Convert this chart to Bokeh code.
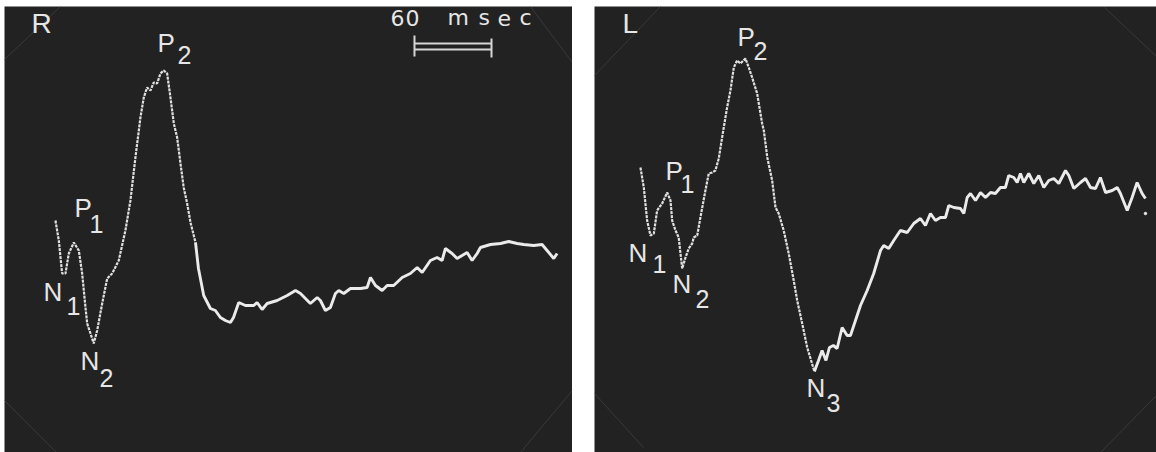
from bokeh.plotting import figure
from bokeh.layouts import row, column
from bokeh.models import Spacer
from bokeh.core.properties import value
from bokeh.embed import file_html
from bokeh.resources import INLINE

# ---------------- data (time in ms from sweep start, amplitude in arbitrary units) ----------
R_time_ms = [0, 2.6, 5.2, 7.8, 10.4, 14.3, 18.2, 20.8, 23.4, 24.7, 27.3, 29.8, 32.5, 36.4,
             40.3, 44.2, 49.3, 54.5, 58.4, 62.3, 66.2, 68.8, 71.4, 74.0, 76.6, 79.2, 81.8,
             84.4, 87.0, 89.6, 92.2, 94.8, 97.4, 99.9, 102.6, 105.2, 109.1, 111.4, 115.5,
             120.7, 124.6, 128.5, 132.4, 136.3, 138.7, 142.8, 148.0, 154.5, 157.1, 161.0,
             164.9, 172.7, 180.5, 187.0, 190.9, 198.6, 203.9, 206.4, 210.3, 214.2, 218.1,
             220.7, 224.6, 229.8, 237.6, 242.8, 245.4, 249.3, 254.5, 258.4, 263.5, 270.1,
             276.5, 281.8, 285.7, 292.1, 297.3, 301.2, 303.8, 309.0, 312.9, 316.8, 320.7,
             324.6, 328.5, 331.1, 338.9, 346.7, 353.1, 359.7, 364.8, 372.6, 379.1, 383.0,
             388.2, 390.8]
R_amp = [8.0, 6.0, 2.7, 2.7, 4.7, 5.8, 5.0, 2.7, -0.7, -2.3, -3.3, -4.3, -3.0, -0.3,
         2.2, 2.7, 4.0, 7.0, 10.0, 14.3, 18.3, 20.3, 21.3, 21.0, 21.8, 21.7, 22.7,
         23.0, 22.7, 20.3, 17.7, 16.3, 13.7, 11.3, 9.7, 7.8, 5.8, 3.2, 0.5,
         -0.8, -1.0, -1.7, -2.0, -2.2, -1.7, -0.2, -0.5, -0.5, -0.2, -0.9,
         -0.3, 0.0, 0.5, 1.0, 0.7, -0.3, 0.3, 0.0, -1.0, -0.7, 0.7,
         1.0, 0.7, 1.2, 1.2, 1.3, 2.3, 1.5, 1.0, 1.5, 1.5, 2.3,
         2.7, 3.3, 2.8, 4.0, 4.3, 4.0, 5.2, 4.7, 4.2, 4.5, 4.8,
         4.0, 4.7, 5.3, 5.6, 5.7, 5.9, 5.7, 5.6, 5.5, 5.6, 5.0,
         4.2, 4.7]

L_time_ms = [0, 2.6, 5.2, 7.8, 10.4, 13.0, 16.9, 20.8, 23.4, 24.7, 27.3, 29.8, 31.2, 32.5,
             35.1, 37.6, 40.3, 41.5, 44.2, 46.7, 50.6, 53.2, 55.9, 58.4, 61.0, 63.6, 67.5,
             70.1, 72.7, 75.3, 77.9, 81.8, 84.4, 87.0, 90.9, 94.8, 96.1, 98.8, 102.6, 105.2,
             107.7, 111.6, 115.5, 119.4, 122.1, 126.0, 129.9, 135.5, 138.7, 141.5, 144.5,
             147.2, 150.3, 153.2, 157.1, 161.0, 163.6, 167.5, 171.4, 176.6, 181.7, 187.0,
             189.5, 193.4, 197.3, 202.5, 207.8, 212.9, 218.1, 222.0, 225.9, 229.8, 233.7,
             237.6, 240.2, 244.1, 249.3, 251.9, 254.5, 257.1, 261.0, 264.9, 268.8, 272.7,
             276.5, 280.4, 284.3, 286.9, 290.8, 293.5, 296.0, 298.6, 302.5, 306.4, 310.3,
             314.2, 318.1, 322.0, 325.9, 331.1, 333.7, 337.6, 342.8, 346.7, 350.6, 354.5,
             358.3, 362.3, 367.5, 371.4, 373.9, 379.2, 383.0, 386.9, 390.8, 393.4]
L_amp = [13.3, 11.3, 8.0, 6.5, 6.7, 9.0, 9.7, 10.8, 10.0, 8.0, 7.0, 6.3, 4.7, 3.2,
         4.3, 5.2, 5.7, 6.3, 6.5, 8.3, 11.0, 12.7, 12.8, 13.0, 14.2, 16.3, 19.3,
         21.0, 23.3, 24.0, 23.7, 24.2, 23.3, 22.3, 20.7, 17.7, 17.0, 14.3, 12.0, 9.3,
         8.7, 7.0, 4.7, 2.0, 0.0, -2.3, -4.7, -7.1, -6.0, -5.0, -6.0,
         -4.7, -4.5, -4.8, -2.7, -3.5, -3.5, -2.0, -0.5, 1.0, 2.7, 5.0,
         5.5, 5.2, 6.0, 7.0, 6.8, 7.7, 8.2, 7.5, 8.7, 8.0, 8.3,
         8.3, 9.5, 9.3, 9.2, 8.7, 10.3, 10.7, 10.0, 10.8, 10.3, 10.8,
         10.7, 11.3, 11.3, 12.5, 12.3, 11.8, 12.7, 11.8, 12.7, 11.7, 12.5,
         11.3, 12.0, 12.2, 11.7, 13.0, 12.5, 11.2, 11.8, 12.2, 11.3, 11.2,
         12.3, 10.8, 11.0, 11.3, 10.7, 9.0, 10.3, 11.8, 10.7, 10.2]

scale_bar_ms = 60
scale_bar_label = ["6", "0", "m", "s", "e", "c"]

# component labels: (main letter, subscript)
R_labels = [("P", "1"), ("P", "2"), ("N", "1"), ("N", "2")]
L_labels = [("P", "1"), ("P", "2"), ("N", "1"), ("N", "2"), ("N", "3")]

# ---------------- styling / layout ----------------
BG = "#222222"
TRACE = "#ebebeb"
TXT = "#e6e6e6"
BEVEL = "#3a3a3a"
FONT = "Liberation Sans"
H = 446
Y_RANGE = (-15.2, 29.4)
TEXT_DY = 1.0   # baseline correction (amplitude units) for the text glyphs


def make_panel(width, x_range):
    p = figure(width=width, height=H, x_range=x_range, y_range=Y_RANGE,
               x_axis_type=None, y_axis_type=None, toolbar_location=None,
               output_backend="svg", min_border=0)
    p.background_fill_color = BG
    p.border_fill_color = BG
    p.outline_line_color = None
    p.grid.visible = False
    return p


def draw_trace(p, t, a, split):
    p.line(t[:split + 1], a[:split + 1], line_color=TRACE, line_width=2.2,
           line_dash="3 1", line_alpha=0.95)
    p.line(t[split:], a[split:], line_color=TRACE, line_width=2.9)


def put_text(p, x, y, s, size, font=FONT):
    p.text(x=[x], y=[y + TEXT_DY], text=[s], text_color=TXT, text_font=value(font),
           text_font_size=size, text_align="left", text_baseline="alphabetic")


def put_label(p, pos_main, pos_sub, main, sub):
    put_text(p, pos_main[0], pos_main[1], main, "26px")
    put_text(p, pos_sub[0], pos_sub[1], sub, "25px")


def bevels(p, segs):
    p.segment(x0=[s[0] for s in segs], y0=[s[1] for s in segs],
              x1=[s[2] for s in segs], y1=[s[3] for s in segs],
              line_color=BEVEL, line_width=1)


# ---------------- left panel: R ----------------
pR = make_panel(568, (-39.7, 402.8))
bevels(pR, [(-39.7, 24.1, 3.9, 29.4), (370.0, 29.4, 402.7, 23.8),
            (-39.7, -10.0, 0.8, -15.2), (402.7, -9.0, 362.2, -15.2)])
draw_trace(pR, R_time_ms, R_amp, 36)
put_text(pR, -18.7, 26.7, "R", "28px")
R_label_pos = [((14.8, 8.3), (26.5, 6.7)), ((79.5, 24.8), (95.0, 23.6)),
               ((-9.3, -0.1), (8.6, -1.5)), ((19.5, -7.0), (34.3, -8.7))]
for (m, s), (pm, ps) in zip(R_labels, R_label_pos):
    put_label(pR, pm, ps, m, s)

# scale bar
sb_t0 = 279.7
sb_t1 = sb_t0 + scale_bar_ms
pR.segment(x0=[sb_t0, sb_t0], y0=[25.7, 25.1], x1=[sb_t1, sb_t1], y1=[25.7, 25.1],
           line_color="#d6d6d6", line_width=1.8)
pR.segment(x0=[sb_t0, sb_t1], y0=[26.5, 26.2], x1=[sb_t0, sb_t1], y1=[24.4, 24.3],
           line_color="#d6d6d6", line_width=2)
char_x = [261.0, 272.7, 305.4, 329.5, 344.3, 361.5]
for ch, cx in zip(scale_bar_label, char_x):
    put_text(pR, cx, 27.3, ch, "22px", "DejaVu Sans")

# ---------------- right panel: L ----------------
pL = make_panel(562, (-35.8, 402.0))
bevels(pL, [(-35.8, 22.5, 15.6, 29.4), (361.5, 29.3, 402.0, 24.4),
            (-35.8, -9.3, 2.3, -14.7), (402.0, -9.5, 358.3, -15.2)])
draw_trace(pL, L_time_ms, L_amp, 47)
pL.scatter(x=[393.4], y=[8.7], size=2.5, color=TRACE)
put_text(pL, -14.0, 26.7, "L", "28px")
L_label_pos = [((19.5, 12.0), (31.2, 10.7)), ((75.6, 25.4), (88.0, 24.0)),
               ((-9.3, 3.8), (9.3, 2.7)), ((24.9, 0.7), (42.8, -0.8)),
               ((129.3, -9.7), (144.9, -11.2))]
for (m, s), (pm, ps) in zip(L_labels, L_label_pos):
    put_label(pL, pm, ps, m, s)

panels = row(Spacer(width=4, height=H), pR, Spacer(width=22, height=H), pL)
layout = column(Spacer(width=1156, height=6), panels)
open("out.html", "w").write(file_html(layout, INLINE))
